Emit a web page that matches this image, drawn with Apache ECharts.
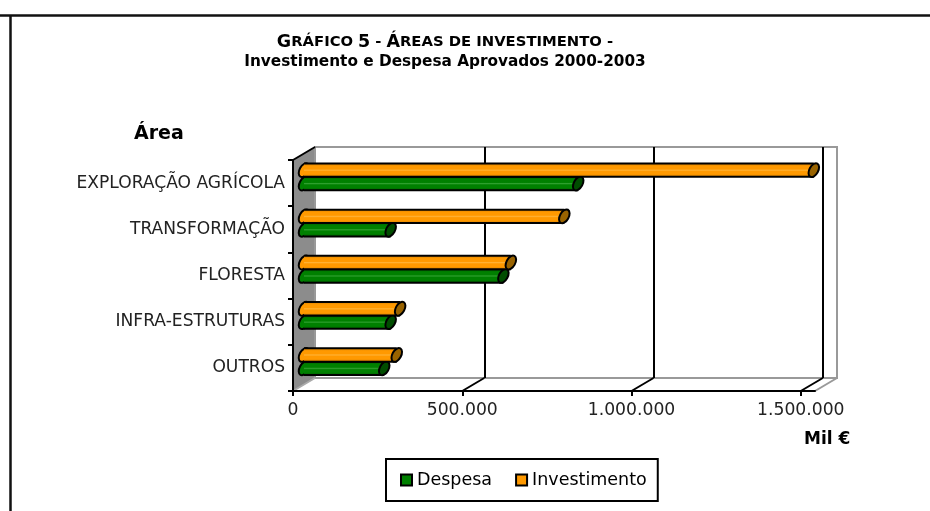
<!DOCTYPE html>
<html>
<head>
<meta charset="utf-8">
<script src="https://cdn.jsdelivr.net/npm/echarts@6/dist/echarts.min.js"></script>
<style>
	html, body { margin: 0; padding: 0; background: #fff; }
	#chart { width: 930px; height: 511px; }
</style>
</head>
<body>
<div id="chart"></div>
<script>
const categories = ['EXPLORAÇÃO AGRÍCOLA', 'TRANSFORMAÇÃO', 'FLORESTA', 'INFRA-ESTRUTURAS', 'OUTROS'];
const despesa = [810000, 256000, 589000, 256000, 237000];
const investimento = [1506000, 769000, 611000, 284000, 274000];
const xTicks = [0, 500000, 1000000, 1500000];

// axis runs a bit past the last tick, the "box" ends there
const xMax = 1542000;
const pxPerUnit = 522 / xMax;

// front plane, bars plane and back wall of the fake 3d box
const front = { left: 293, top: 160, width: 522, height: 231 };
const mid = { left: 304, top: 153.5, width: 522, height: 231 };
const back = { left: 315, top: 147, width: 522, height: 231 };

const fmt = v => String(v).replace(/\B(?=(\d{3})+$)/g, '.');

function cylinder(params, api, colors, offset) {
	const p = api.coord([api.value(0), api.value(1)]);
	const band = api.size([0, 1])[1];
	const h = band * 0.29;
	const x0 = params.coordSys.x;
	const x1 = p[0];
	const yc = p[1] + band * offset;
	const y0 = yc - h / 2;
	const rx = 4.4;
	const ry = h / 2 + 0.8;
	const tilt = -0.5;
	const fill = new echarts.graphic.LinearGradient(0, 0, 0, 1, [
		{ offset: 0, color: colors.dark },
		{ offset: 0.2, color: colors.main },
		{ offset: 0.42, color: colors.main },
		{ offset: 0.5, color: colors.light },
		{ offset: 0.6, color: colors.main },
		{ offset: 0.8, color: colors.main },
		{ offset: 1, color: colors.dark }
	]);
	const line = { stroke: '#000', lineWidth: 2 };
	return {
		type: 'group',
		children: [
			{
				type: 'ellipse',
				shape: { cx: x0, cy: yc, rx: rx, ry: ry },
				originX: x0, originY: yc, rotation: tilt,
				style: { fill: colors.main, stroke: '#000', lineWidth: 2 }
			},
			{
				type: 'rect',
				shape: { x: x0, y: y0, width: x1 - x0, height: h },
				style: { fill: fill }
			},
			{ type: 'line', shape: { x1: x0, y1: y0, x2: x1, y2: y0 }, style: line },
			{ type: 'line', shape: { x1: x0, y1: y0 + h, x2: x1, y2: y0 + h }, style: line },
			{
				type: 'ellipse',
				shape: { cx: x1, cy: yc, rx: rx, ry: ry },
				originX: x1, originY: yc, rotation: tilt,
				style: { fill: colors.cap, stroke: '#000', lineWidth: 2 }
			}
		]
	};
}

const greens = { main: '#008000', dark: '#006000', light: '#2fa02f', cap: '#004d00' };
const oranges = { main: '#ff9900', dark: '#d98200', light: '#ffb234', cap: '#996300' };

// box furniture: side wall, depth lines, page frame
const furniture = [
	{ type: 'line', shape: { x1: 0, y1: 15.5, x2: 930, y2: 15.5 }, style: { stroke: '#111', lineWidth: 2.5 } },
	{ type: 'line', shape: { x1: 10.5, y1: 15, x2: 10.5, y2: 511 }, style: { stroke: '#111', lineWidth: 2.5 } },
	{
		type: 'polygon',
		z: -1,
		shape: { points: [
			[front.left, front.top], [back.left, back.top],
			[back.left, back.top + back.height], [front.left, front.top + front.height]
		] },
		style: { fill: '#8c8c8c' }
	},
	{
		type: 'line',
		shape: { x1: front.left, y1: front.top, x2: back.left, y2: back.top },
		style: { stroke: '#000', lineWidth: 2 }
	},
	{
		type: 'line',
		shape: { x1: front.left, y1: front.top + front.height, x2: back.left, y2: back.top + back.height },
		style: { stroke: '#aaa', lineWidth: 2 }
	},
	{
		type: 'line',
		shape: {
			x1: front.left + front.width, y1: front.top + front.height,
			x2: back.left + back.width, y2: back.top + back.height
		},
		style: { stroke: '#999', lineWidth: 2 }
	},
	{
		type: 'text', left: 134, top: 125,
		style: { text: 'Área', fill: '#000', font: 'bold 19px "DejaVu Sans"' }
	},
	{
		type: 'text', left: 804, top: 431,
		style: { text: 'Mil €', fill: '#000', font: 'bold 17px "DejaVu Sans"' }
	}
];
xTicks.slice(1).forEach(t => {
	furniture.push({
		type: 'line',
		shape: {
			x1: front.left + t * pxPerUnit, y1: front.top + front.height,
			x2: back.left + t * pxPerUnit, y2: back.top + back.height
		},
		style: { stroke: '#000', lineWidth: 2 }
	});
});

const hiddenY = {
	type: 'category', inverse: true, data: categories,
	axisLine: { show: false }, axisTick: { show: false }, axisLabel: { show: false }, splitLine: { show: false }
};

const option = {
	animation: false,
	backgroundColor: '#fff',
	title: [
		{
			left: 440, top: 28, textAlign: 'center',
			text: '{b|G}{a|RÁFICO} {b|5} {a|-} {b|Á}{a|REAS DE INVESTIMENTO -}',
			textStyle: {
				rich: {
					a: { fontFamily: 'DejaVu Sans', fontWeight: 'bold', fontSize: 14.8, color: '#000' },
					b: { fontFamily: 'DejaVu Sans', fontWeight: 'bold', fontSize: 17.5, color: '#000' }
				}
			}
		},
		{
			left: 440, top: 50, textAlign: 'center',
			text: 'Investimento e Despesa Aprovados 2000-2003',
			textStyle: { fontFamily: 'DejaVu Sans', fontWeight: 'bold', fontSize: 15.3, color: '#000' }
		}
	],
	legend: {
		left: 386, top: 459,
		padding: [12, 11, 12, 14],
		itemWidth: 11, itemHeight: 11, itemGap: 23,
		borderColor: '#000', borderWidth: 2,
		textStyle: { fontFamily: 'DejaVu Sans', fontSize: 17.5, color: '#000' },
		data: [
			{ name: 'Despesa', icon: 'rect', itemStyle: { color: greens.main, borderColor: '#000', borderWidth: 2 } },
			{ name: 'Investimento', icon: 'rect', itemStyle: { color: oranges.main, borderColor: '#000', borderWidth: 2 } }
		]
	},
	grid: [front, Object.assign({}, back, { show: true, borderColor: '#999', borderWidth: 2, backgroundColor: 'transparent' }), mid],
	xAxis: [
		{
			gridIndex: 0, type: 'value', min: 0, max: xMax,
			axisLine: { show: true, lineStyle: { color: '#000', width: 2 } },
			axisTick: { show: true, length: 5, customValues: xTicks, lineStyle: { color: '#000', width: 2 } },
			axisLabel: {
				customValues: xTicks, formatter: fmt, margin: 11, hideOverlap: false,
				fontFamily: 'DejaVu Sans', fontSize: 17.2, color: '#222'
			},
			splitLine: { show: false }
		},
		{
			gridIndex: 1, type: 'value', min: 0, max: xMax,
			axisLine: { show: false },
			axisTick: { show: false, customValues: xTicks },
			axisLabel: { show: false },
			splitLine: { show: true, showMinLine: false, lineStyle: { color: '#000', width: 2 } }
		},
		{
			gridIndex: 2, type: 'value', min: 0, max: xMax,
			axisLine: { show: false }, axisTick: { show: false }, axisLabel: { show: false }, splitLine: { show: false }
		}
	],
	yAxis: [
		{
			gridIndex: 0, type: 'category', inverse: true, data: categories,
			axisLine: { show: true, lineStyle: { color: '#000', width: 2 } },
			axisTick: { show: true, length: 5, lineStyle: { color: '#000', width: 2 } },
			axisLabel: { margin: 8, padding: [7, 0, 0, 0], fontFamily: 'DejaVu Sans', fontSize: 17.1, color: '#222' }
		},
		Object.assign({ gridIndex: 1 }, hiddenY),
		Object.assign({ gridIndex: 2 }, hiddenY)
	],
	graphic: { elements: furniture },
	series: [
		{
			name: 'Despesa', type: 'custom', xAxisIndex: 2, yAxisIndex: 2, z: 5,
			encode: { x: 0, y: 1 },
			itemStyle: { color: greens.main },
			data: despesa.map((v, i) => [v, i]),
			renderItem: (params, api) => cylinder(params, api, greens, 0.15)
		},
		{
			name: 'Investimento', type: 'custom', xAxisIndex: 2, yAxisIndex: 2, z: 5,
			encode: { x: 0, y: 1 },
			itemStyle: { color: oranges.main },
			data: investimento.map((v, i) => [v, i]),
			renderItem: (params, api) => cylinder(params, api, oranges, -0.14)
		},
		// empty series so the other two grids stay alive
		{ type: 'custom', xAxisIndex: 1, yAxisIndex: 1, data: [], renderItem: () => null, silent: true },
		{ type: 'custom', xAxisIndex: 0, yAxisIndex: 0, data: [], renderItem: () => null, silent: true }
	]
};

const chart = echarts.init(document.getElementById('chart'), '', { renderer: 'canvas', width: 930, height: 511 });
chart.setOption(option);
</script>
</body>
</html>
